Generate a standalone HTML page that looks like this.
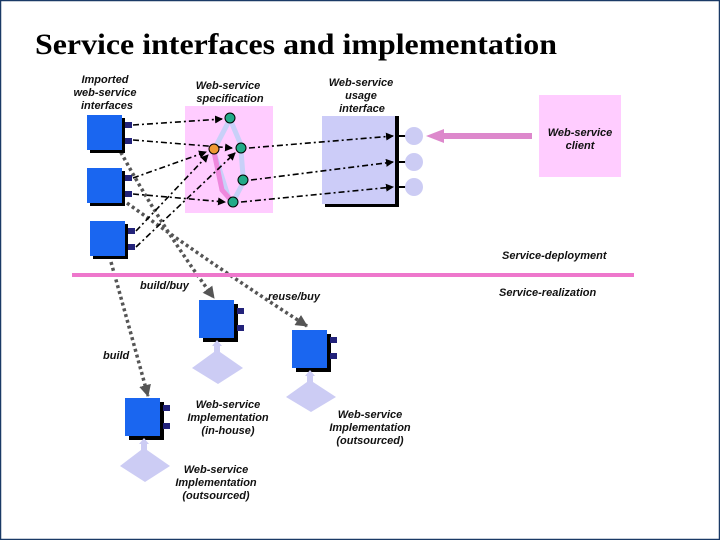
<!DOCTYPE html>
<html><head><style>
html,body{margin:0;padding:0;background:#fff}
svg{display:block}
text{font-family:"Liberation Sans",sans-serif;font-weight:bold;font-style:italic;font-size:11px;fill:#111}
</style></head><body>
<svg width="720" height="540" viewBox="0 0 720 540" xmlns="http://www.w3.org/2000/svg">
<defs>
<marker id="ab" markerWidth="8" markerHeight="8" refX="7" refY="4" orient="auto" markerUnits="userSpaceOnUse"><path d="M0,0L8,4L0,8z" fill="#000"/></marker>
<marker id="ag" markerWidth="12" markerHeight="12" refX="11" refY="6" orient="auto" markerUnits="userSpaceOnUse"><path d="M0,0L12,6L0,12z" fill="#555"/></marker>
</defs>
<rect x="0.5" y="0.5" width="719" height="539" fill="#fff" stroke="#1a3a66" stroke-width="1.5"/>
<text x="35" y="54" textLength="522" lengthAdjust="spacingAndGlyphs" style="font-family:'Liberation Serif',serif;font-style:normal;font-weight:bold;font-size:30px;fill:#000">Service interfaces and implementation</text>

<text x="105" y="83" text-anchor="middle">Imported</text>
<text x="105" y="96" text-anchor="middle">web-service</text>
<text x="107" y="109" text-anchor="middle">interfaces</text>
<text x="228" y="89" text-anchor="middle">Web-service</text>
<text x="230" y="102" text-anchor="middle">specification</text>
<text x="361" y="86" text-anchor="middle">Web-service</text>
<text x="361" y="99" text-anchor="middle">usage</text>
<text x="362" y="112" text-anchor="middle">interface</text>

<rect x="185" y="106" width="88" height="107" fill="#ffccff"/>
<g stroke="#c8d0f8" stroke-width="5" fill="none">
<path d="M230,119 L216,146"/><path d="M230,119 L241,145"/><path d="M241,150 L243,176"/><path d="M214,152 L229,199"/><path d="M243,183 L235,198"/>
</g>
<path d="M214,152 L222,190 L230,199" stroke="#ee88dd" stroke-width="5" fill="none"/>
<rect x="325" y="119" width="74" height="88" fill="#000"/>
<rect x="322" y="116" width="73" height="88" fill="#ccccf8"/>
<rect x="395" y="116" width="4" height="88" fill="#000"/>
<g stroke="#000" stroke-width="2"><line x1="399" y1="136" x2="407" y2="136"/><line x1="399" y1="162" x2="407" y2="162"/><line x1="399" y1="187" x2="407" y2="187"/></g>
<g fill="#ccccf4"><circle cx="414" cy="136" r="9"/><circle cx="414" cy="162" r="9"/><circle cx="414" cy="187" r="9"/></g>
<rect x="539" y="95" width="82" height="82" fill="#ffccff"/>
<text x="580" y="136" text-anchor="middle">Web-service</text>
<text x="580" y="149" text-anchor="middle">client</text>
<line x1="532" y1="136" x2="440" y2="136" stroke="#dd88cc" stroke-width="6"/>
<path d="M426,136 L444,129 L444,143z" fill="#dd88cc"/>

<!-- gray dotted arrows (behind boxes) -->
<g stroke="#555" stroke-width="3.5" stroke-dasharray="3,3" fill="none" marker-end="url(#ag)">
<path d="M111,262 Q130,330 148,396"/>
<path d="M118,147 Q160,225 214,298"/>
<path d="M127,203 Q220,270 307,326"/>
</g>

<g>
<rect x="90" y="118" width="35" height="35" fill="#000"/><rect x="87" y="115" width="35" height="35" fill="#1a66f0"/>
<rect x="125" y="122" width="7" height="6" fill="#22227a"/><rect x="125" y="138" width="7" height="6" fill="#22227a"/>
<rect x="90" y="171" width="35" height="35" fill="#000"/><rect x="87" y="168" width="35" height="35" fill="#1a66f0"/>
<rect x="125" y="175" width="7" height="6" fill="#22227a"/><rect x="125" y="191" width="7" height="6" fill="#22227a"/>
<rect x="93" y="224" width="35" height="35" fill="#000"/><rect x="90" y="221" width="35" height="35" fill="#1a66f0"/>
<rect x="128" y="228" width="7" height="6" fill="#22227a"/><rect x="128" y="244" width="7" height="6" fill="#22227a"/>
</g>

<g stroke="#000" stroke-width="1.6" stroke-dasharray="6,3,2,3" fill="none" marker-end="url(#ab)">
<line x1="133" y1="125" x2="222" y2="119"/>
<line x1="133" y1="140" x2="232" y2="148"/>
<line x1="133" y1="178" x2="206" y2="152"/>
<line x1="133" y1="194" x2="225" y2="202"/>
<line x1="136" y1="231" x2="208" y2="155"/>
<line x1="136" y1="247" x2="235" y2="153"/>
<line x1="249" y1="148" x2="393" y2="136"/>
<line x1="251" y1="180" x2="393" y2="162"/>
<line x1="241" y1="202" x2="393" y2="187"/>
</g>
<g stroke="#000" stroke-width="1"><circle cx="230" cy="118" r="5" fill="#22aa88"/><circle cx="241" cy="148" r="5" fill="#22aa88"/><circle cx="243" cy="180" r="5" fill="#22aa88"/><circle cx="233" cy="202" r="5" fill="#22aa88"/><circle cx="214" cy="149" r="5" fill="#ee9933"/></g>

<rect x="72" y="273" width="562" height="4" fill="#ee77cc"/>
<text x="502" y="259">Service-deployment</text>
<text x="499" y="296">Service-realization</text>
<text x="140" y="289">build/buy</text>
<text x="268" y="300">reuse/buy</text>
<text x="103" y="359">build</text>

<g>
<rect x="203" y="304" width="35" height="38" fill="#000"/><rect x="199" y="300" width="35" height="38" fill="#1a66f0"/>
<rect x="237" y="308" width="7" height="6" fill="#22227a"/><rect x="237" y="325" width="7" height="6" fill="#22227a"/>
<path d="M217,340 L222,346 L220,346 L220,352 L243,368 L218,384 L192,368 L214,352 L214,346 L212,346z" fill="#ccccf4"/>
<rect x="296" y="334" width="35" height="38" fill="#000"/><rect x="292" y="330" width="35" height="38" fill="#1a66f0"/>
<rect x="330" y="337" width="7" height="6" fill="#22227a"/><rect x="330" y="353" width="7" height="6" fill="#22227a"/>
<path d="M310,370 L315,376 L313,376 L313,382 L336,397 L311,412 L286,397 L307,382 L307,376 L305,376z" fill="#ccccf4"/>
<rect x="129" y="402" width="35" height="38" fill="#000"/><rect x="125" y="398" width="35" height="38" fill="#1a66f0"/>
<rect x="163" y="405" width="7" height="6" fill="#22227a"/><rect x="163" y="423" width="7" height="6" fill="#22227a"/>
<path d="M144,438 L149,444 L147,444 L147,450 L170,466 L145,482 L120,466 L141,450 L141,444 L139,444z" fill="#ccccf4"/>
</g>
<text x="228" y="408" text-anchor="middle">Web-service</text>
<text x="228" y="421" text-anchor="middle">Implementation</text>
<text x="228" y="434" text-anchor="middle">(in-house)</text>
<text x="370" y="418" text-anchor="middle">Web-service</text>
<text x="370" y="431" text-anchor="middle">Implementation</text>
<text x="370" y="444" text-anchor="middle">(outsourced)</text>
<text x="216" y="473" text-anchor="middle">Web-service</text>
<text x="216" y="486" text-anchor="middle">Implementation</text>
<text x="216" y="499" text-anchor="middle">(outsourced)</text>
</svg>
</body></html>
